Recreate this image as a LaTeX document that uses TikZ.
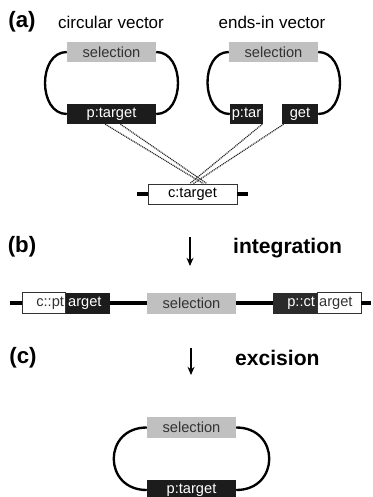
\documentclass[tikz,border=0pt]{standalone}
\usepackage{fontspec}
\setmainfont{Liberation Sans}
\usepackage{tikz}
\usetikzlibrary{arrows.meta,positioning,calc}

\definecolor{selgray}{HTML}{C0C0C0}
\definecolor{tgtblack}{HTML}{1C1C1C}
\definecolor{txtgray}{HTML}{333333}

\begin{document}
\begin{tikzpicture}[x=0.03cm,y=-0.03cm,
  box/.style={minimum height=0.6cm,inner sep=0pt,font=\fontsize{12.5}{14}\selectfont},
  sel/.style={box,fill=selgray,text=txtgray,minimum width=2.67cm},
  tgt/.style={box,fill=tgtblack,text=white},
  plain/.style={box,fill=white,draw=txtgray,line width=0.7pt},
  rightpart/.style={text width=1.2cm,align=right,inner xsep=1.5pt},
  leftpart/.style={text width=1.2cm,align=left,inner xsep=1.5pt},
  loopline/.style={line width=2pt},
  dna/.style={line width=4pt},
  homol/.style={dash pattern=on 0.9pt off 0.7pt,line width=1pt,draw=txtgray!70!black},
  head/.style={font=\fontsize{14.5}{17}\selectfont},
  tag/.style={font=\fontsize{19}{22}\selectfont\bfseries},
  stagelabel/.style={font=\fontsize{18}{21}\selectfont\bfseries,anchor=west},
  stagearrow/.style={line width=1.4pt,-{Stealth[length=7pt,width=6pt]}}]
\useasboundingbox (0,0) rectangle (373,497);

% (a) the two vectors and the chromosomal target
\node[tag] (taga) at (22,22) {(a)};
\node[head] (circ) at (111,22) {circular vector};
\node[head] (endsin) at (272,22) {ends-in vector};

\node[sel] (sel1) at (111.5,52) {selection};
\node[tgt,minimum width=2.67cm] (pt1) at (111.5,114) {p:target};
\draw[loopline] (sel1.west) .. controls +(-29,0) and +(-29,0) .. (pt1.west);
\draw[loopline] (sel1.east) .. controls +(29,0) and +(29,0) .. (pt1.east);

\node[sel] (sel2) at (273.5,52) {selection};
\node[tgt,minimum width=0.99cm] (ptar) at (246.5,114) {p:tar};
\node[tgt,minimum width=1.08cm] (get) at (300,114) {get};
\draw[loopline] (sel2.west) .. controls +(-29,0) and +(-29,0) .. (ptar.west);
\draw[loopline] (sel2.east) .. controls +(29,0) and +(29,0) .. (get.east);

\node[plain,minimum width=2.67cm] (ct) at (192.5,194) {c:target};
\coordinate (ctl) at (137,194);
\coordinate (ctr) at (248,194);
\draw[dna,line width=3.4pt] (ctl) -- (ct.west) (ct.east) -- (ctr);

% homology between vector and chromosome
\coordinate (h1) at ($(pt1.south west)!0.43!(pt1.south east)$);
\coordinate (h2) at ($(pt1.south west)!0.60!(pt1.south east)$);
\coordinate (h3) at ($(ptar.south west)!0.97!(ptar.south east)$);
\coordinate (h4) at ($(get.south west)!0.05!(get.south east)$);
\coordinate (e1) at ($(ct.north west)!0.62!(ct.north east)$);
\coordinate (e2) at ($(ct.north west)!0.66!(ct.north east)$);
\coordinate (e3) at ($(ct.north west)!0.47!(ct.north east)$);
\coordinate (e4) at ($(ct.north west)!0.51!(ct.north east)$);
\foreach \a/\b in {h1/e1,h2/e2,h3/e3,h4/e4}
  \draw[homol] (\a) -- (\b);

% (b) integration
\node[tag] (tagb) at (22,247) {(b)};
\coordinate (arrb1) at (190,237);
\coordinate (arrb2) at (190,266);
\draw[stagearrow] (arrb1) -- (arrb2);
\node[stagelabel] (integ) at (229,248) {integration};

\node[plain,rightpart,minimum height=0.63cm,text=txtgray] (cpt) at (44,303) {c::pt};
\node[tgt,leftpart,minimum height=0.63cm,right=0pt of cpt] (arg1) {arget};
\node[sel,minimum height=0.63cm] (selb) at (191.5,303) {selection};
\node[tgt,rightpart,minimum height=0.63cm,fill=txtgray!85!black] (pct) at (295,303) {p::ct};
\node[plain,leftpart,minimum height=0.63cm,text=txtgray,right=0pt of pct] (arg2) {arget};
\coordinate (chl) at (10,303);
\coordinate (chr) at (371,303);
\draw[dna] (chl) -- (cpt.west) (arg1.east) -- (selb.west)
  (selb.east) -- (pct.west) (arg2.east) -- (chr);

% (c) excision
\node[tag] (tagc) at (23,358) {(c)};
\coordinate (arrc1) at (191,348);
\coordinate (arrc2) at (191,375);
\draw[stagearrow] (arrc1) -- (arrc2);
\node[stagelabel] (excis) at (231,358) {excision};

\node[sel,minimum height=0.63cm] (selc) at (191.5,427.5) {selection};
\node[tgt,minimum width=2.67cm] (ptc) at (191.5,490) {p:target};
\draw[loopline] (selc.west) .. controls +(-44,0) and +(-44,0) .. (ptc.west);
\draw[loopline] (selc.east) .. controls +(44,0) and +(44,0) .. (ptc.east);
\end{tikzpicture}
\end{document}
